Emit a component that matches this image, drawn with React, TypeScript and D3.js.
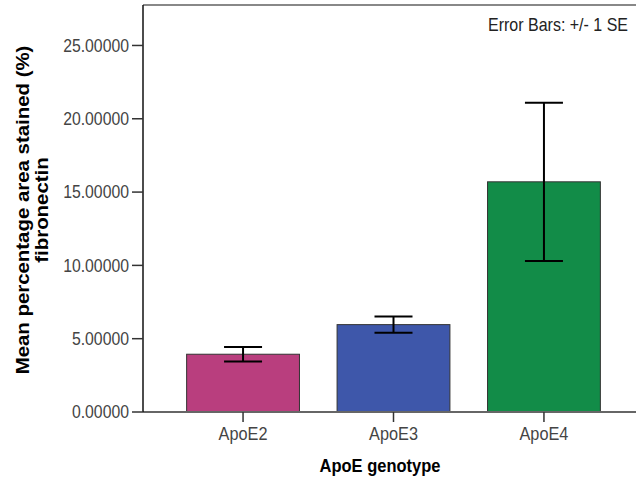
import * as d3 from "d3"

const genotypes = ["ApoE2", "ApoE3", "ApoE4"]
const meanValues = [3.94, 5.96, 15.7]
const seValues = [0.49, 0.56, 5.4]
const barColors = ["#b93e7e", "#3e57aa", "#128c48"]
const yTicks = [0, 5, 10, 15, 20, 25]

const W = 636
const H = 477
const left = 143
const right = 644
const top = 5
const bottom = 412

const x = d3.scaleBand<string>()
  .domain(genotypes)
  .range([left, right])
  .paddingInner(0.25)
  .paddingOuter(0.29)

const y = d3.scaleLinear()
  .domain([0, 27.76])
  .range([bottom, top])

const font = "Arial, 'Liberation Sans', sans-serif"
// the picture is a bit stretched vertically, so text is too
const stretch = 1.15

export default function App() {
  const bw = x.bandwidth()
  const capW = 38
  return (
    <svg width={W} height={H} style={{ display: "block", position: "absolute", left: 0, top: 0, background: "#fff" }}>
      {/* frame */}
      <line x1={left} x2={W} y1={top} y2={top} stroke="#888" strokeWidth={2} />

      {/* bars */}
      {genotypes.map((g, i) => (
        <rect key={g} x={x(g)!} y={y(meanValues[i])} width={bw} height={bottom - y(meanValues[i])}
          fill={barColors[i]} stroke="#333" strokeWidth={1} />
      ))}

      {/* error bars */}
      {genotypes.map((g, i) => {
        const cx = x(g)! + bw / 2
        const hi = y(meanValues[i] + seValues[i])
        const lo = y(meanValues[i] - seValues[i])
        return (
          <g key={g} stroke="#000" strokeWidth={2}>
            <line x1={cx} x2={cx} y1={hi} y2={lo} />
            <line x1={cx - capW / 2} x2={cx + capW / 2} y1={hi} y2={hi} />
            <line x1={cx - capW / 2} x2={cx + capW / 2} y1={lo} y2={lo} />
          </g>
        )
      })}

      {/* axes */}
      <line x1={left} x2={W} y1={bottom} y2={bottom} stroke="#666" strokeWidth={2} />
      <line x1={left} x2={left} y1={top} y2={bottom} stroke="#111" strokeWidth={1.5} />

      {yTicks.map(t => (
        <g key={t}>
          <line x1={left - 11} x2={left} y1={y(t)} y2={y(t)} stroke="#333" strokeWidth={1.5} />
          <text transform={`translate(${left - 14},${y(t)}) scale(1,${stretch})`} dy="0.35em" textAnchor="end"
            fontFamily={font} fontSize={15.8} fill="#444">
            {t.toFixed(5)}
          </text>
        </g>
      ))}

      {genotypes.map(g => {
        const cx = x(g)! + bw / 2
        return (
          <g key={g}>
            <line x1={cx} x2={cx} y1={bottom} y2={bottom + 10} stroke="#333" strokeWidth={1.5} />
            <text transform={`translate(${cx},440) scale(1,${stretch})`} textAnchor="middle"
              fontFamily={font} fontSize={16.3} fill="#444">{g}</text>
          </g>
        )
      })}

      <text transform={`translate(380,472) scale(1,${stretch})`} textAnchor="middle" fontFamily={font}
        fontSize={16.5} fontWeight="bold" fill="#000">
        ApoE genotype
      </text>

      <g transform={`translate(0,210) rotate(-90) scale(${20.4 / 18.5},1)`} fontFamily={font} fontSize={18.5}
        fontWeight="bold" fill="#000">
        <text x={0} y={29} textAnchor="middle">Mean percentage area stained (%)</text>
        <text x={0} y={48} textAnchor="middle">fibronectin</text>
      </g>

      <text transform={`translate(628,31) scale(1,${stretch})`} textAnchor="end" fontFamily={font}
        fontSize={16} fill="#222">
        Error Bars: +/- 1 SE
      </text>
    </svg>
  )
}
